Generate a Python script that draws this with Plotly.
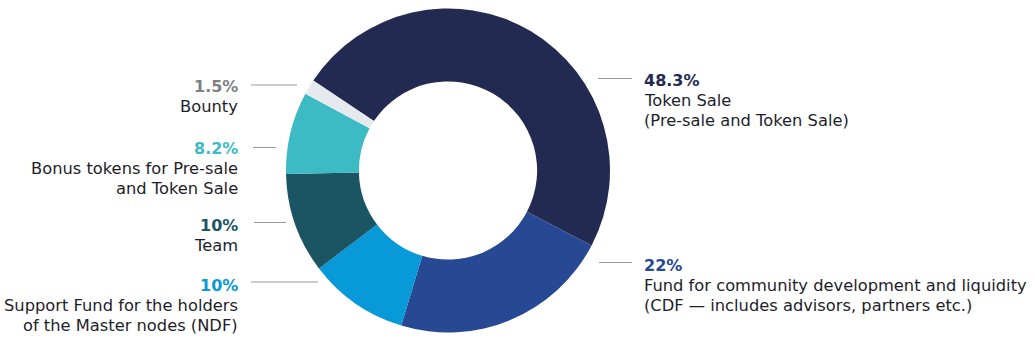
import plotly.graph_objects as go

categories = ["Token Sale", "CDF", "NDF", "Team", "Bonus", "Bounty"]
values = [48.3, 22, 10, 10, 8.2, 1.5]
pct_labels = ["48.3%", "22%", "10%", "10%", "8.2%", "1.5%"]
desc_lines = [
    ["Token Sale", "(Pre-sale and Token Sale)"],
    ["Fund for community development and liquidity", "(CDF — includes advisors, partners etc.)"],
    ["Support Fund for the holders", "of the Master nodes (NDF)"],
    ["Team"],
    ["Bonus tokens for Pre-sale", "and Token Sale"],
    ["Bounty"],
]
colors = ["#232a52", "#274892", "#0899d8", "#1b5463", "#3cbbc4", "#e6eaee"]
pct_colors = ["#232a52", "#274892", "#0899d8", "#1b5463", "#3cbbc4", "#7f8084"]

W, H = 1035, 347
cx, cy, R = 448, 170.5, 162

# label layout: (side, x of text, y of percent line centre, leader x0, x1, leader y)
label_pos = [
    ("right", 643, 80.5, 598, 632, 78.5),
    ("right", 643, 265, 599, 632, 262.5),
    ("left", 239, 285, 251, 318, 282),
    ("left", 239, 225, 254, 286, 222.5),
    ("left", 239, 148.5, 253, 276, 147.5),
    ("left", 239, 86.5, 251, 297, 85),
]
line_gap = 20

FONT = "DejaVu Sans"
fig = go.Figure()
fig.add_trace(go.Pie(
    labels=categories, values=values, sort=False, direction="clockwise",
    rotation=-56.3, hole=0.55, textinfo="none", hoverinfo="label+percent",
    marker=dict(colors=colors, line=dict(width=0)),
    domain=dict(x=[(cx - R) / W, (cx + R) / W], y=[1 - (cy + R) / H, 1 - (cy - R) / H]),
    showlegend=False,
))

shapes = []
annotations = []
for i, (side, tx, ty, lx0, lx1, ly) in enumerate(label_pos):
    anchor = "left" if side == "right" else "right"
    shapes.append(dict(type="line", xref="x", yref="y", x0=lx0, x1=lx1, y0=ly, y1=ly,
                       line=dict(color="#9a9a9a", width=1)))
    annotations.append(dict(xref="x", yref="y", x=tx, y=ty, text="<b>" + pct_labels[i] + "</b>",
                            showarrow=False, xanchor=anchor, yanchor="middle", borderpad=0,
                            font=dict(family=FONT, size=16, color=pct_colors[i])))
    for j, line in enumerate(desc_lines[i]):
        annotations.append(dict(xref="x", yref="y", x=tx, y=ty + line_gap * (j + 1), text=line,
                                showarrow=False, xanchor=anchor, yanchor="middle", borderpad=0,
                                font=dict(family=FONT, size=16.3, color="#1e1e2a")))

fig.update_layout(
    width=W, height=H, margin=dict(l=0, r=0, t=0, b=0),
    paper_bgcolor="white", plot_bgcolor="rgba(0,0,0,0)",
    xaxis=dict(range=[0, W], visible=False, fixedrange=True),
    yaxis=dict(range=[H, 0], visible=False, fixedrange=True),
    shapes=shapes, annotations=annotations,
)
fig.write_html("out.html")
